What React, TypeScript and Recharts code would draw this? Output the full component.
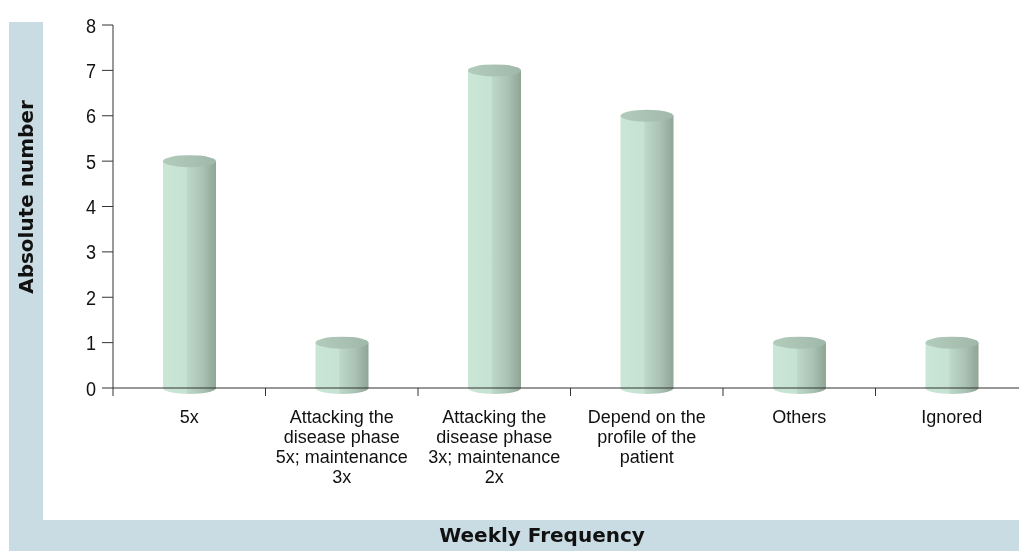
import { Bar, BarChart, XAxis, YAxis } from "recharts";

const categories = [
    "5x",
    "Attacking the\ndisease phase\n5x; maintenance\n3x",
    "Attacking the\ndisease phase\n3x; maintenance\n2x",
    "Depend on the\nprofile of the\npatient",
    "Others",
    "Ignored",
];
const counts = [5, 1, 7, 6, 1, 1];
const yTicks = [0, 1, 2, 3, 4, 5, 6, 7, 8];

const data = categories.map((c, i) => ({ name: c, value: counts[i] }));

// narrow look: Liberation Sans squeezed horizontally
const tickFont = "'Liberation Sans', Arial, sans-serif";
const squeeze = 0.86;
const stripColor = "#c9dbe3";
const xTickSize = 8;
const xTickMargin = 2;

function Cylinder(props: any) {
    const { x, y, width, height } = props;
    if (width == null || height == null) return null;
    const cx = x + width / 2;
    const rx = width / 2;
    const ry = 6;
    return (
        <g>
            <ellipse cx={cx} cy={y + height} rx={rx} ry={ry} fill="url(#cylBody)" />
            <rect x={x} y={y} width={width} height={height} fill="url(#cylBody)" />
            <ellipse cx={cx} cy={y} rx={rx} ry={ry} fill="url(#cylTop)" />
        </g>
    );
}

// label under the band centre, tick mark on the band's left edge (as in the reference)
function CategoryTick(props: any) {
    const { x, y, payload, width, visibleTicksCount } = props;
    const band = width && visibleTicksCount ? width / visibleTicksCount : 152.5;
    const axisY = y - xTickSize - xTickMargin;
    const edgeX = x - band / 2;
    const lines = String(payload.value).split("\n");
    return (
        <g>
            <line x1={edgeX} y1={axisY} x2={edgeX} y2={axisY + xTickSize} stroke="#333" />
            <text x={x} y={y + 25} textAnchor="middle" fontFamily={tickFont} fontSize={18} fill="#111">
                {lines.map((l, i) => (
                    <tspan key={i} x={x} dy={i === 0 ? 0 : 20}>{l}</tspan>
                ))}
            </text>
        </g>
    );
}

function ValueTick(props: any) {
    const { x, y, payload } = props;
    return (
        <g transform={`translate(${x},${y}) scale(${squeeze},1)`}>
            <text x={0} y={0} dy="0.36em" textAnchor="end" fontFamily={tickFont} fontSize={21} fill="#111">
                {payload.value}
            </text>
        </g>
    );
}

export default function App() {
    return (
        <div style={{ position: "fixed", left: 8, top: 8, width: 1011, height: 543, overflow: "hidden" }}>
            <div style={{ position: "absolute", left: 1, top: 14, width: 34, height: 500, background: stripColor }} />
            <div style={{ position: "absolute", left: 1, top: 512, width: 1010, height: 31, background: stripColor }} />
            <div
                style={{
                    position: "absolute", left: 18, top: 189, transform: "translate(-50%, -50%) rotate(-90deg)",
                    fontFamily: "'DejaVu Sans', sans-serif", fontWeight: "bold", fontSize: 20, whiteSpace: "nowrap", color: "#111",
                }}
            >
                Absolute number
            </div>
            <div
                style={{
                    position: "absolute", left: 534, top: 527, transform: "translate(-50%, -50%)",
                    fontFamily: "'DejaVu Sans', sans-serif", fontWeight: "bold", fontSize: 20, whiteSpace: "nowrap", color: "#111",
                }}
            >
                Weekly Frequency
            </div>
            <div style={{ position: "absolute", left: 0, top: 0 }}>
                <BarChart
                    width={1040}
                    height={543}
                    data={data}
                    margin={{ top: 17, right: 20, bottom: 63, left: 0 }}
                    barCategoryGap="0%"
                >
                    <defs>
                        <linearGradient id="cylBody" x1="0" y1="0" x2="1" y2="0">
                            <stop offset="0%" stopColor="#c9e6d6" />
                            <stop offset="44%" stopColor="#c6e2d2" />
                            <stop offset="46%" stopColor="#bdd8c8" />
                            <stop offset="75%" stopColor="#a9c2b3" />
                            <stop offset="100%" stopColor="#8fa596" />
                        </linearGradient>
                        <linearGradient id="cylTop" x1="0" y1="0" x2="1" y2="0">
                            <stop offset="0%" stopColor="#b2ccbc" />
                            <stop offset="100%" stopColor="#a0b8a9" />
                        </linearGradient>
                    </defs>
                    <XAxis
                        dataKey="name"
                        height={100}
                        interval={0}
                        tickSize={xTickSize}
                        tickMargin={xTickMargin}
                        tickLine={false}
                        stroke="#333"
                        tick={<CategoryTick />}
                    />
                    <YAxis
                        width={105}
                        domain={[0, 8]}
                        ticks={yTicks}
                        interval={0}
                        tickSize={11}
                        tickMargin={6}
                        stroke="#333"
                        tick={<ValueTick />}
                    />
                    <Bar dataKey="value" barSize={53} shape={<Cylinder />} isAnimationActive={false} />
                </BarChart>
            </div>
        </div>
    );
}
